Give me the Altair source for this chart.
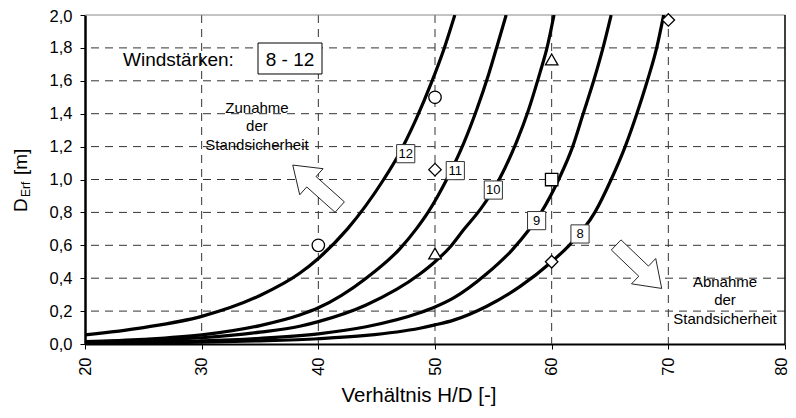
import altair as alt
import pandas as pd

FONT = "Liberation Sans"
W, H = 700, 329

# ---------------- data ----------------
x12 = [20, 25, 30, 35, 38.4, 40, 42.5, 45.6, 46.8, 48.4, 49.7, 50.8, 51.7]
y12 = [0.055, 0.1, 0.168, 0.295, 0.43, 0.52, 0.7, 1.0, 1.14, 1.37, 1.59, 1.8, 2.0]
x11 = [20, 25, 30, 35, 38.4, 40, 44.1, 47.0, 48.4, 49.4, 51.0, 52.4, 53.6, 54.6, 55.4, 56.1]
y11 = [0.014, 0.028, 0.055, 0.112, 0.176, 0.22, 0.4, 0.58, 0.7, 0.8, 1.0, 1.21, 1.43, 1.64, 1.83, 2.0]
x10 = [20, 25, 30, 35, 38.4, 40, 44.1, 48.7, 50, 51.3, 52.4, 53.9, 55.0, 56.0, 57.0, 58.0, 59.0, 59.6, 60.2]
y10 = [0.012, 0.022, 0.038, 0.072, 0.108, 0.136, 0.237, 0.425, 0.5, 0.59, 0.69, 0.82, 0.936, 1.07, 1.23, 1.42, 1.65, 1.8, 2.0]
x9 = [20, 25, 30, 35, 40, 44.1, 48.7, 50, 51.6, 54.4, 56.6, 58.0, 59.1, 60.6, 61.8, 62.7, 63.6, 64.4, 65.1]
y9 = [0.006, 0.011, 0.019, 0.035, 0.062, 0.105, 0.19, 0.225, 0.28, 0.425, 0.571, 0.69, 0.8, 1.0, 1.2, 1.4, 1.6, 1.8, 2.0]
x8 = [20, 25, 30, 35, 40, 44.1, 48.7, 50, 51.6, 54.4, 57.3, 60, 61.5, 63.7, 65.1, 66.3, 67.3, 68.2, 69.0, 69.6]
y8 = [0.003, 0.006, 0.011, 0.019, 0.032, 0.052, 0.096, 0.116, 0.145, 0.228, 0.35, 0.5, 0.6, 0.8, 1.0, 1.2, 1.4, 1.6, 1.8, 2.0]

wind_labels = ["12", "11", "10", "9", "8"]
label_x = [47.49, 51.74, 55.0, 58.71, 62.43]
label_y = [1.157, 1.054, 0.936, 0.75, 0.669]

pt_x = [40, 50, 50, 50, 60, 60, 60, 70]
pt_y = [0.6, 1.5, 1.06, 0.55, 1.73, 1.0, 0.5, 1.97]
pt_shape = ["circle", "circle", "diamond", "triangle-up", "triangle-up", "square", "diamond", "diamond"]

x_ticks = [20, 30, 40, 50, 60, 70, 80]
y_ticks = [0.0, 0.2, 0.4, 0.6, 0.8, 1.0, 1.2, 1.4, 1.6, 1.8, 2.0]
grid_x = [30, 40, 50, 60, 70]
grid_y = [0.2, 0.4, 0.6, 0.8, 1.0, 1.2, 1.4, 1.6, 1.8]

note_text = ["Zunahme\nder\nStandsicherheit", "Abnahme\nder\nStandsicherheit"]
note_x = [34.74, 74.86]
note_y = [1.435, 0.379]

arrow_x = [39.82, 67.48]
arrow_y = [0.96, 0.47]

x_title = "Verhältnis H/D [-]"
legend_title = "Windstärken:"
legend_range = "8 - 12"

# ---------------- tables ----------------
rows = []
for name, xs_, ys_ in [("12", x12, y12), ("11", x11, y11), ("10", x10, y10), ("9", x9, y9), ("8", x8, y8)]:
    for a, b in zip(xs_, ys_):
        rows.append({"wind": name, "x": a, "y": b})
curve_df = pd.DataFrame(rows)
pts_df = pd.DataFrame({"x": pt_x, "y": pt_y, "shape": pt_shape})
lab_df = pd.DataFrame({"x": label_x, "y": label_y, "label": wind_labels})
note_df = pd.DataFrame({"x": note_x, "y": note_y, "text": note_text})

xs = alt.Scale(domain=[20, 80], nice=False, zero=False)
ys = alt.Scale(domain=[0, 2], nice=False, zero=False)

X_AXIS = alt.Axis(
    values=x_ticks, grid=False, title=None, labelAngle=270, labelFontSize=16.5,
    labelFont=FONT, labelColor="black", labelPadding=8, tickSize=5, tickColor="black",
    tickWidth=1, domainColor="black", domainWidth=2, labelFlush=False,
    labelOffset={"condition": {"test": "datum.value == 80", "value": -4}, "value": 0})
Y_AXIS = alt.Axis(
    values=y_ticks, grid=False, title=None, labelFontSize=16.5, labelFont=FONT,
    labelColor="black", labelPadding=8, tickSize=5, tickColor="black", tickWidth=1,
    domainColor="black", domainWidth=2.5, labelFlush=False,
    labelOffset={"condition": {"test": "datum.value == 2", "value": 1}, "value": 0},
    labelExpr="replace(format(datum.value, '.1f'), '.', ',')")


def X(field="x"):
    return alt.X(f"{field}:Q", scale=xs, axis=X_AXIS)


def Y(field="y"):
    return alt.Y(f"{field}:Q", scale=ys, axis=Y_AXIS)


# dashed grid
grid_v = alt.Chart(pd.DataFrame({"x": grid_x})).mark_rule(
    strokeDash=[8, 6], color="#333", strokeWidth=1).encode(x=X())
grid_h = alt.Chart(pd.DataFrame({"y": grid_y})).mark_rule(
    strokeDash=[8, 6], color="#333", strokeWidth=1).encode(y=Y())

one = alt.Data(values=[{"a": 1}])
frame_top = alt.Chart(one).mark_rule(color="#888", strokeWidth=1).encode(
    x=alt.value(0), x2=alt.value(W), y=alt.value(0))
frame_right = alt.Chart(one).mark_rule(color="black", strokeWidth=1.5).encode(
    x=alt.value(W), y=alt.value(0), y2=alt.value(H))

curves = alt.Chart(curve_df).mark_line(
    color="black", strokeWidth=3.2, interpolate="monotone", clip=True
).encode(x=X(), y=Y(), detail="wind:N")

markers = alt.Chart(pts_df).mark_point(
    filled=True, fill="white", stroke="black", strokeWidth=1.3, opacity=1, size=155
).encode(x=X(), y=Y(), shape=alt.Shape("shape:N", scale=None, legend=None))

boxes = alt.Chart(lab_df).mark_point(
    shape="square", size=330, filled=True, fill="white", stroke="#333", strokeWidth=1, opacity=1
).encode(x=X(), y=Y())
box_text = alt.Chart(lab_df).mark_text(font=FONT, fontSize=13, color="black").encode(
    x=X(), y=Y(), text="label:N")

notes = alt.Chart(note_df).mark_text(
    font=FONT, fontSize=15, color="black", lineBreak="\n", lineHeight=18.5, baseline="middle"
).encode(x=X(), y=Y(), text="text:N")

ARROW = "M-1,-0.222L0.206,-0.222L0.206,-0.556L1,0L0.206,0.556L0.206,0.222L-1,0.222Z"
arrow1 = alt.Chart(pd.DataFrame({"x": [arrow_x[0]], "y": [arrow_y[0]]})).mark_point(
    shape=ARROW, size=3969, angle=221.8, filled=True, fill="white", stroke="black",
    strokeWidth=0.8, opacity=1).encode(x=X(), y=Y())
arrow2 = alt.Chart(pd.DataFrame({"x": [arrow_x[1]], "y": [arrow_y[1]]})).mark_point(
    shape=ARROW, size=3969, angle=43.7, filled=True, fill="white", stroke="black",
    strokeWidth=0.8, opacity=1).encode(x=X(), y=Y())

leg_box = alt.Chart(one).mark_point(
    shape="M-1,-0.484L1,-0.484L1,0.484L-1,0.484Z", size=4096, filled=True, fill="white",
    stroke="black", strokeWidth=1, opacity=1
).encode(x=alt.value(205), y=alt.value(43.5))
leg_title = alt.Chart(one).mark_text(font=FONT, fontSize=19, align="left", baseline="middle",
                                     color="black").encode(
    x=alt.value(38), y=alt.value(45), text=alt.value(legend_title))
leg_range = alt.Chart(one).mark_text(font=FONT, fontSize=19, align="center", baseline="middle",
                                     color="black").encode(
    x=alt.value(205), y=alt.value(45), text=alt.value(legend_range))

xtitle = alt.Chart(one).mark_text(font=FONT, fontSize=20.5, align="center", baseline="alphabetic",
                                  color="black").encode(
    x=alt.value(334), y=alt.value(387), text=alt.value(x_title))
yt_d = alt.Chart(one).mark_text(font=FONT, fontSize=19, align="left", baseline="alphabetic",
                                angle=270, color="black").encode(
    x=alt.value(-58), y=alt.value(197), text=alt.value("D"))
yt_sub = alt.Chart(one).mark_text(font=FONT, fontSize=12, align="left", baseline="alphabetic",
                                  angle=270, color="black").encode(
    x=alt.value(-55), y=alt.value(182), text=alt.value("Erf"))
yt_m = alt.Chart(one).mark_text(font=FONT, fontSize=19, align="left", baseline="alphabetic",
                                angle=270, color="black").encode(
    x=alt.value(-58), y=alt.value(160), text=alt.value("[m]"))

chart = alt.layer(
    grid_v, grid_h, frame_top, frame_right, curves, markers, boxes, box_text, notes,
    arrow1, arrow2, leg_box, leg_title, leg_range, xtitle, yt_d, yt_sub, yt_m
).properties(
    width=W, height=H,
    padding={"left": 77, "top": 7, "right": 3, "bottom": 64},
    autosize=alt.AutoSizeParams(type="none"),
).configure_view(stroke=None)

chart.save("out.html", embed_options={"renderer": "svg", "actions": False})
